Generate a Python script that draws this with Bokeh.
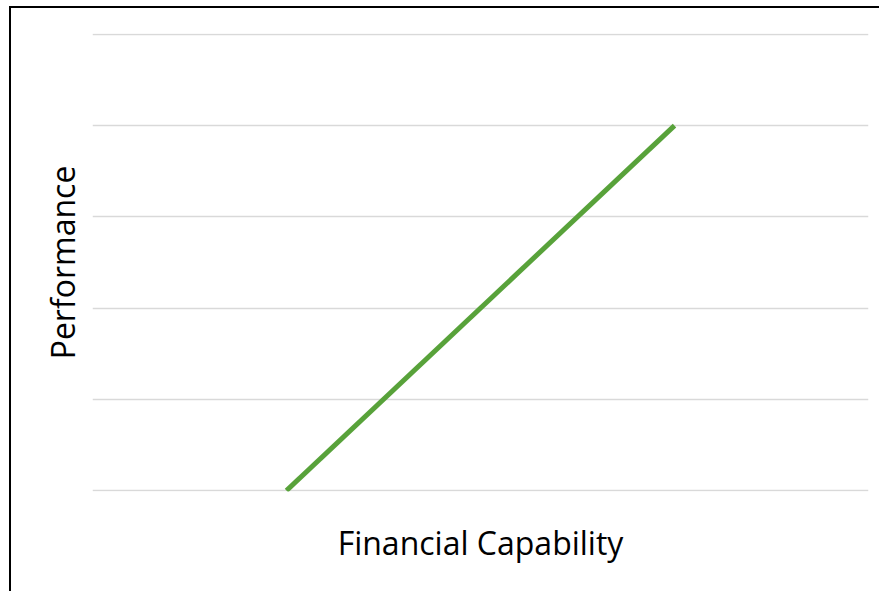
from bokeh.plotting import figure
from bokeh.models import FixedTicker, Range1d
from bokeh.embed import file_html
from bokeh.resources import INLINE

# data
financial_capability = [2.5, 7.5]
performance = [0, 4]
grid_levels = [0, 1, 2, 3, 4, 5]
x_title = "Financial Capability"
y_title = "Performance"

p = figure(width=870, height=585, output_backend="svg", toolbar_location=None,
           x_range=Range1d(0, 10), y_range=Range1d(-0.01, 5.01),
           min_border_left=81, min_border_right=13, min_border_top=25, min_border_bottom=102)
p.styles = {"border-left": "2px solid black", "border-top": "2px solid black",
            "margin-left": "9px", "margin-top": "6px"}
p.outline_line_color = None
p.background_fill_color = "white"
p.border_fill_color = "white"

p.xgrid.visible = False
p.ygrid.ticker = FixedTicker(ticks=grid_levels)
p.ygrid.grid_line_color = "#d9d9d9"
p.ygrid.grid_line_width = 1.5

for ax in (p.xaxis, p.yaxis):
    ax.ticker = FixedTicker(ticks=[])
    ax.axis_line_color = None
    ax.major_tick_line_color = None
    ax.minor_tick_line_color = None
    ax.major_label_text_font_size = "0px"
    ax.axis_label_text_font = "Open Sans"
    ax.axis_label_text_font_style = "normal"
    ax.axis_label_text_font_size = "32px"
    ax.axis_label_text_color = "black"

p.xaxis.axis_label = x_title
p.yaxis.axis_label = y_title
p.xaxis.axis_label_standoff = 29
p.yaxis.axis_label_standoff = 9

p.line(financial_capability, performance, line_color="#58A23A", line_width=5)

open("out.html", "w").write(file_html(p, INLINE))
